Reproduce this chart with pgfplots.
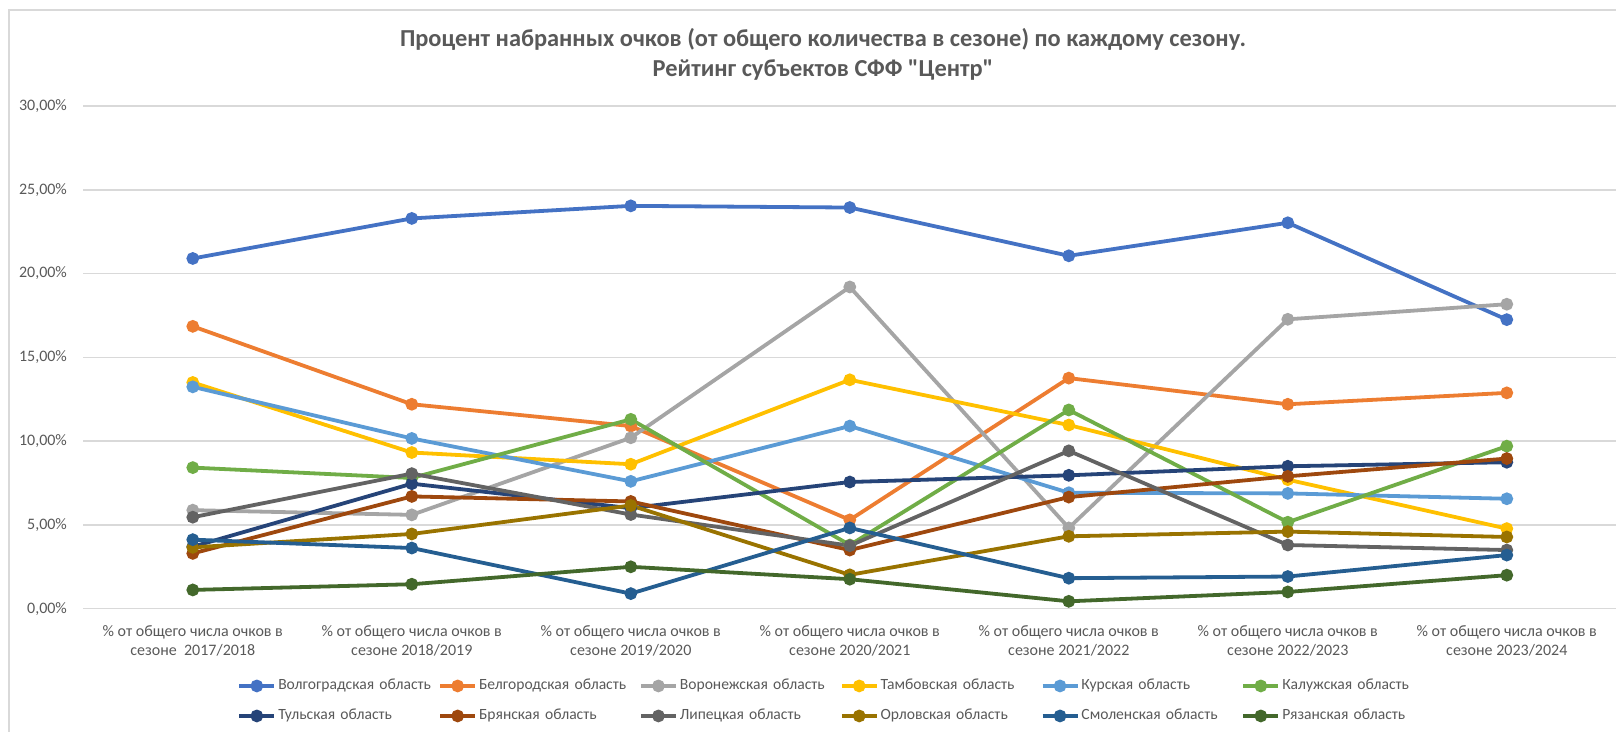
\documentclass[border=0pt]{standalone}
\usepackage{fontspec}
\setmainfont{Carlito}
\newfontfamily\rawfont{Carlito}[Ligatures=TeXOff]
\usepackage{pgfplots}
\pgfplotsset{compat=1.18}
\definecolor{cVol}{HTML}{4472C4}
\definecolor{cBel}{HTML}{ED7D31}
\definecolor{cVor}{HTML}{A5A5A5}
\definecolor{cTam}{HTML}{FFC000}
\definecolor{cKur}{HTML}{5B9BD5}
\definecolor{cKal}{HTML}{70AD47}
\definecolor{cTul}{HTML}{264478}
\definecolor{cBry}{HTML}{9E480E}
\definecolor{cLip}{HTML}{636363}
\definecolor{cOre}{HTML}{997300}
\definecolor{cSmo}{HTML}{255E91}
\definecolor{cRya}{HTML}{43682B}
\definecolor{txt}{HTML}{595959}
\definecolor{gridc}{HTML}{D9D9D9}
\begin{document}
\begin{tikzpicture}
\begin{axis}[
  at={(41.65pt,61.65pt)}, anchor=south west,
  scale only axis, width=766.5pt, height=251.35pt,
  xmin=-0.5, xmax=6.5, ymin=0, ymax=30,
  clip=false,
  axis line style={draw=none},
  major tick length=0pt,
  ymajorgrids, major grid style={gridc, line width=0.8pt},
  xtick={0,...,6},
  xticklabels={
    {\% от общего числа очков в\\сезоне~ 2017/2018},
    {\% от общего числа очков в\\сезоне 2018/2019},
    {\% от общего числа очков в\\сезоне 2019/2020},
    {\% от общего числа очков в\\сезоне 2020/2021},
    {\% от общего числа очков в\\сезоне 2021/2022},
    {\% от общего числа очков в\\сезоне 2022/2023},
    {\% от общего числа очков в\\сезоне 2023/2024}},
  xticklabel style={align=center, font=\fontsize{8}{9.5}\selectfont, text=txt, anchor=north, yshift=-5pt},
  ytick={0,5,10,15,20,25,30},
  yticklabels={{0,00\%},{5,00\%},{10,00\%},{15,00\%},{20,00\%},{25,00\%},{30,00\%}},
  yticklabel style={font=\fontsize{8}{9.5}\selectfont, text=txt, anchor=east, inner xsep=0pt, xshift=-8pt},
  every axis plot/.append style={line width=1.9pt, mark=*, mark size=2.2pt, mark options={solid}},
  legend columns=6,
  legend image code/.code={\draw[mark repeat=2,mark phase=2] plot coordinates {(0pt,0pt)(8.75pt,0pt)(17.5pt,0pt)};},
  legend style={at={(0.1003,-0.137)}, anchor=north west, draw=none, fill=none, inner sep=0pt,
    font=\fontsize{7.8}{9.5}\selectfont, text=txt,
    /tikz/every even column/.append style={column sep=0pt},
    /tikz/every odd column/.append style={column sep=0pt},
    nodes={text width=79pt, inner xsep=1pt, inner ysep=0pt, text height=6pt, text depth=2pt, align=left},
    row sep=7pt},
  legend cell align=left,
]
\addplot[color=cVol] coordinates {(0,20.90)(1,23.29)(2,24.04)(3,23.94)(4,21.06)(5,23.03)(6,17.25)};
\addlegendentry{Волгоградская область}
\addplot[color=cBel] coordinates {(0,16.85)(1,12.2)(2,10.9)(3,5.3)(4,13.76)(5,12.2)(6,12.88)};
\addlegendentry{Белгородская область}
\addplot[color=cVor] coordinates {(0,5.88)(1,5.6)(2,10.2)(3,19.2)(4,4.82)(5,17.27)(6,18.17)};
\addlegendentry{Воронежская область}
\addplot[color=cTam] coordinates {(0,13.5)(1,9.32)(2,8.62)(3,13.66)(4,10.96)(5,7.7)(6,4.78)};
\addlegendentry{Тамбовская область}
\addplot[color=cKur] coordinates {(0,13.24)(1,10.16)(2,7.6)(3,10.9)(4,6.92)(5,6.88)(6,6.56)};
\addlegendentry{Курская область}
\addplot[color=cKal] coordinates {(0,8.42)(1,7.8)(2,11.3)(3,3.8)(4,11.86)(5,5.16)(6,9.7)};
\addlegendentry{Калужская область}
\addplot[color=cTul] coordinates {(0,3.7)(1,7.46)(2,6.0)(3,7.56)(4,7.96)(5,8.5)(6,8.74)};
\addlegendentry{Тульская область}
\addplot[color=cBry] coordinates {(0,3.3)(1,6.7)(2,6.4)(3,3.5)(4,6.66)(5,7.9)(6,8.96)};
\addlegendentry{Брянская область}
\addplot[color=cLip] coordinates {(0,5.46)(1,8.06)(2,5.62)(3,3.76)(4,9.42)(5,3.8)(6,3.5)};
\addlegendentry{Липецкая область}
\addplot[color=cOre] coordinates {(0,3.66)(1,4.46)(2,6.16)(3,2.02)(4,4.32)(5,4.6)(6,4.28)};
\addlegendentry{Орловская область}
\addplot[color=cSmo] coordinates {(0,4.12)(1,3.62)(2,0.9)(3,4.82)(4,1.82)(5,1.92)(6,3.2)};
\addlegendentry{Смоленская область}
\addplot[color=cRya] coordinates {(0,1.12)(1,1.46)(2,2.5)(3,1.76)(4,0.44)(5,1.0)(6,2.0)};
\addlegendentry{Рязанская область}
\end{axis}
\draw[gridc, line width=1pt] (4.5pt,0pt) -- (4.5pt,361pt) -- (808pt,361pt);
\node[font=\fontsize{12.2}{14}\selectfont\bfseries, text=txt] at (411.5pt,346.5pt) {Процент набранных очков (от общего количества в сезоне) по каждому сезону.};
\node[font=\rawfont\fontsize{12.2}{14}\selectfont\bfseries, text=txt] at (411.5pt,331pt) {Рейтинг субъектов СФФ "Центр"};
\pgfresetboundingbox
\path (0pt,0pt) rectangle (808pt,366pt);
\end{tikzpicture}
\end{document}
